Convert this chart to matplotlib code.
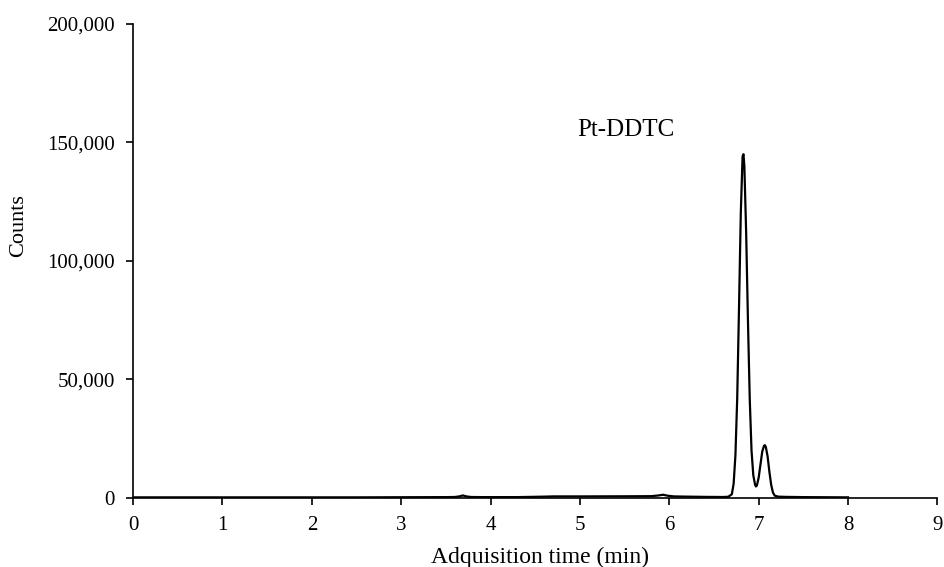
import matplotlib
matplotlib.use("Agg")
import matplotlib.pyplot as plt
from matplotlib.ticker import FuncFormatter

plt.rcParams['font.family'] = ['Liberation Serif', 'DejaVu Serif']

# chromatogram
time_min = [0.0, 0.5, 1.0, 1.5, 2.0, 2.5, 3.0, 3.5, 3.6, 3.65, 3.69, 3.73, 3.78, 3.9,
            4.3, 4.6, 4.7, 5.0, 5.5, 5.8, 5.88, 5.93, 5.98, 6.05, 6.2, 6.4, 6.6,
            6.66, 6.70, 6.72, 6.74, 6.76, 6.78, 6.80, 6.82, 6.83, 6.84, 6.86, 6.88,
            6.90, 6.92, 6.94, 6.96, 6.97, 6.98, 7.00, 7.02, 7.04, 7.06, 7.07, 7.08,
            7.10, 7.12, 7.14, 7.16, 7.18, 7.22, 7.3, 7.5, 8.0]
counts = [200, 200, 200, 200, 200, 200, 250, 300, 350, 600, 1000, 600, 350, 300,
          300, 500, 600, 600, 650, 700, 1000, 1300, 900, 600, 500, 400, 350,
          450, 1500, 6000, 18000, 42000, 80000, 120000, 144000, 145000, 140000, 112000, 75000,
          42000, 20000, 9500, 5500, 4800, 5200, 8500, 14000, 19500, 22000, 22200, 21500,
          17500, 11000, 5500, 2200, 900, 500, 400, 300, 200]

fig = plt.figure(figsize=(9.44, 5.67), dpi=100)
ax = fig.add_axes([0.141, 0.122, 0.852, 0.836])
ax.plot(time_min, counts, color='black', linewidth=1.6)

ax.set_xlim(0, 9)
ax.set_ylim(0, 200000)
ax.set_xticks(range(0, 10))
ax.set_yticks([0, 50000, 100000, 150000, 200000])
ax.yaxis.set_major_formatter(FuncFormatter(lambda v, p: f"{int(v):,}"))
ax.spines['top'].set_visible(False)
ax.spines['right'].set_visible(False)
for s in ['left', 'bottom']:
    ax.spines[s].set_linewidth(1.2)
ax.tick_params(direction='out', length=5, width=1.2, labelsize=15, pad=8)

ax.set_xlabel("Adquisition time (min)", fontsize=17)
ax.xaxis.set_label_coords(0.506, -0.103)
ax.set_ylabel("Counts", fontsize=16)
ax.yaxis.set_label_coords(-0.131, 0.574)
ax.text(4.97, 155000, "Pt-DDTC", fontsize=18, ha='left', va='center')

fig.savefig("out.png", dpi=100)
